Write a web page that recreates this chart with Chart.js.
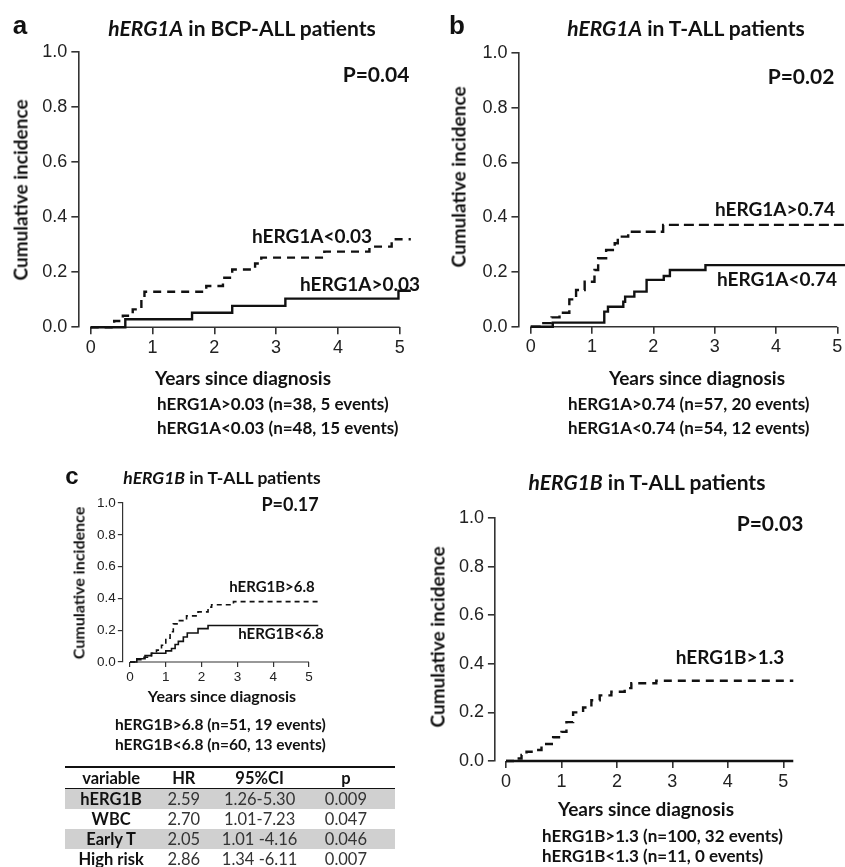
<!DOCTYPE html>
<html>
<head>
<meta charset="utf-8">
<script src="https://cdn.jsdelivr.net/npm/chart.js@4.4.1/dist/chart.umd.min.js"></script>
<style>
  html, body { margin: 0; padding: 0; width: 845px; height: 867px; overflow: hidden; background: #fff; }
  canvas { position: absolute; left: 0; top: 0; }
  .t { position: absolute; font-family: Lato, "Open Sans", sans-serif; font-weight: bold; color: #111; white-space: nowrap; }
  .c { transform: translate(-50%, -50%); }
  .l { transform: translateY(-50%); }
  .r { transform: translate(-50%, -50%) rotate(-90deg); }
  .lt { position: absolute; font-family: "Liberation Sans", Arial, sans-serif; font-weight: bold; color: #111; transform: translate(-50%, -50%); }
  table { position: absolute; left: 65px; top: 766px; width: 330px; border-collapse: collapse; font-family: Lato, sans-serif; font-size: 16.5px; }
  th, td { text-align: center; padding: 0; line-height: 20px; }
  th { border-top: 2px solid #111; border-bottom: 1.5px solid #111; color: #111; }
  td { color: #333; }
  td.v { font-weight: bold; color: #111; }
  tr.g td { background: #d0d0d0; }
</style>
</head>
<body>
<canvas id="ca" width="900" height="867"></canvas>
<canvas id="cb" width="900" height="867"></canvas>
<canvas id="cc" width="900" height="867"></canvas>
<canvas id="cd" width="900" height="867"></canvas>

<div class="lt" style="left:20px;top:25px;font-size:26px">a</div>
<div class="t c" style="left:242px;top:27px;font-size:21px"><i>hERG1A</i> in BCP-ALL patients</div>
<div class="t c" style="left:376px;top:73px;font-size:21px">P=0.04</div>
<div class="t c" style="left:312px;top:235px;font-size:19px">hERG1A&lt;0.03</div>
<div class="t c" style="left:360px;top:283px;font-size:19px">hERG1A&gt;0.03</div>
<div class="t r" style="left:20px;top:190px;font-size:19px">Cumulative incidence</div>
<div class="t c" style="left:243px;top:377px;font-size:19px">Years since diagnosis</div>
<div class="t l" style="left:157px;top:403px;font-size:17px">hERG1A&gt;0.03 (n=38, 5 events)</div>
<div class="t l" style="left:157px;top:427px;font-size:17px">hERG1A&lt;0.03 (n=48, 15 events)</div>

<div class="lt" style="left:457px;top:25px;font-size:26px">b</div>
<div class="t c" style="left:686px;top:27px;font-size:21px"><i>hERG1A</i> in T-ALL patients</div>
<div class="t c" style="left:801px;top:75px;font-size:21px">P=0.02</div>
<div class="t c" style="left:775px;top:208px;font-size:19px">hERG1A&gt;0.74</div>
<div class="t c" style="left:777px;top:278px;font-size:19px">hERG1A&lt;0.74</div>
<div class="t r" style="left:458px;top:177px;font-size:19px">Cumulative incidence</div>
<div class="t c" style="left:697px;top:377px;font-size:19px">Years since diagnosis</div>
<div class="t l" style="left:568px;top:403px;font-size:17px">hERG1A&gt;0.74 (n=57, 20 events)</div>
<div class="t l" style="left:568px;top:427px;font-size:17px">hERG1A&lt;0.74 (n=54, 12 events)</div>

<div class="lt" style="left:72px;top:476px;font-size:24px">c</div>
<div class="t c" style="left:222px;top:477px;font-size:17.5px"><i>hERG1B</i> in T-ALL patients</div>
<div class="t c" style="left:290px;top:504px;font-size:18px">P=0.17</div>
<div class="t c" style="left:272px;top:586px;font-size:15px">hERG1B&gt;6.8</div>
<div class="t c" style="left:281px;top:633px;font-size:15px">hERG1B&lt;6.8</div>
<div class="t r" style="left:78px;top:583px;font-size:16px">Cumulative incidence</div>
<div class="t c" style="left:222px;top:695px;font-size:16px">Years since diagnosis</div>
<div class="t l" style="left:115px;top:724px;font-size:15.5px">hERG1B&gt;6.8 (n=51, 19 events)</div>
<div class="t l" style="left:115px;top:744px;font-size:15.5px">hERG1B&lt;6.8 (n=60, 13 events)</div>

<table>
  <tr><th style="width:95px">variable</th><th style="width:55px">HR</th><th style="width:103px">95%CI</th><th style="width:77px;padding-right:12px">p</th></tr>
  <tr class="g"><td class="v">hERG1B</td><td>2.59</td><td>1.26-5.30</td><td style="padding-right:12px">0.009</td></tr>
  <tr><td class="v">WBC</td><td>2.70</td><td>1.01-7.23</td><td style="padding-right:12px">0.047</td></tr>
  <tr class="g"><td class="v">Early T</td><td>2.05</td><td>1.01 -4.16</td><td style="padding-right:12px">0.046</td></tr>
  <tr><td class="v">High risk</td><td>2.86</td><td>1.34 -6.11</td><td style="padding-right:12px">0.007</td></tr>
</table>

<div class="t c" style="left:647px;top:481px;font-size:21px"><i>hERG1B</i> in T-ALL patients</div>
<div class="t c" style="left:770px;top:522px;font-size:21px">P=0.03</div>
<div class="t c" style="left:730px;top:656px;font-size:19px">hERG1B&gt;1.3</div>
<div class="t r" style="left:437px;top:637px;font-size:19px">Cumulative incidence</div>
<div class="t c" style="left:646px;top:808px;font-size:19px">Years since diagnosis</div>
<div class="t l" style="left:542px;top:835px;font-size:17px">hERG1B&gt;1.3 (n=100, 32 events)</div>
<div class="t l" style="left:542px;top:855px;font-size:17px">hERG1B&lt;1.3 (n=11, 0 events)</div>

<script>
// axis ticks shared by all panels
const xTickValues = [0, 1, 2, 3, 4, 5];
const xTickLabels = ['0', '1', '2', '3', '4', '5'];
const yTickValues = [0, 0.2, 0.4, 0.6, 0.8, 1.0];
const yTickLabels = ['0.0', '0.2', '0.4', '0.6', '0.8', '1.0'];

// a: hERG1A in BCP-ALL
const aLowTimes  = [0, 0.38, 0.52, 0.68, 0.82, 0.87, 1.87, 2.14, 2.29, 2.66, 2.76, 3.78, 4.51, 4.87, 5.18];
const aLowInc    = [0, 0.023, 0.042, 0.065, 0.10, 0.129, 0.15, 0.18, 0.21, 0.232, 0.253, 0.275, 0.293, 0.32, 0.32];
const aHighTimes = [0, 0.56, 1.64, 2.29, 3.15, 4.98, 5.18];
const aHighInc   = [0, 0.029, 0.053, 0.078, 0.104, 0.133, 0.133];

// b: hERG1A in T-ALL
const bHighTimes = [0, 0.17, 0.34, 0.47, 0.63, 0.74, 0.88, 1.04, 1.10, 1.23, 1.37, 1.42, 1.59, 2.16, 5.25];
const bHighInc   = [0, 0.013, 0.034, 0.051, 0.10, 0.134, 0.164, 0.207, 0.25, 0.28, 0.305, 0.329, 0.347, 0.372, 0.372];
const bLowTimes  = [0, 0.36, 1.20, 1.26, 1.51, 1.54, 1.69, 1.89, 2.17, 2.27, 2.85, 5.25];
const bLowInc    = [0, 0.015, 0.055, 0.073, 0.091, 0.11, 0.128, 0.171, 0.185, 0.207, 0.225, 0.225];

// c: hERG1B in T-ALL, cut-off 6.8
const cHighTimes = [0, 0.19, 0.36, 0.6, 0.74, 0.88, 1.0, 1.12, 1.21, 1.38, 1.58, 1.9, 2.18, 2.28, 2.89, 5.26];
const cHighInc   = [0, 0.015, 0.03, 0.055, 0.075, 0.105, 0.15, 0.19, 0.24, 0.26, 0.29, 0.315, 0.345, 0.36, 0.38, 0.38];
const cLowTimes  = [0, 0.19, 0.42, 0.6, 1.0, 1.16, 1.26, 1.35, 1.49, 1.6, 1.9, 2.18, 5.26];
const cLowInc    = [0, 0.02, 0.04, 0.055, 0.07, 0.085, 0.11, 0.13, 0.157, 0.182, 0.21, 0.23, 0.23];

// d: hERG1B in T-ALL, cut-off 1.3
const dHighTimes = [0, 0.19, 0.28, 0.37, 0.55, 0.64, 0.85, 1.0, 1.09, 1.21, 1.39, 1.54, 1.69, 1.9, 2.14, 2.26, 2.71, 5.18];
const dHighInc   = [0, 0.01, 0.025, 0.038, 0.045, 0.07, 0.098, 0.12, 0.16, 0.20, 0.22, 0.25, 0.27, 0.285, 0.30, 0.32, 0.33, 0.33];
const dLowTimes  = [0, 5.18];
const dLowInc    = [0, 0];

const axisColor = '#333';
const lineColor = '#111';
const xMin = -0.2, xMax = 5.3;

function pts(times, inc) {
    return times.map((t, i) => ({ x: t, y: inc[i] }));
}

// x axis drawn from 0 to 5 only (offset axes)
const xAxisLine = {
    id: 'xAxisLine',
    beforeDatasetsDraw(chart) {
        const ctx = chart.ctx;
        const x = chart.scales.x;
        const y = chart.chartArea.bottom;
        ctx.save();
        ctx.strokeStyle = axisColor;
        ctx.lineWidth = chart.options.axisWidth;
        ctx.beginPath();
        ctx.moveTo(x.getPixelForValue(0), y);
        ctx.lineTo(x.getPixelForValue(5), y);
        ctx.stroke();
        ctx.restore();
    }
};

// box = page pixels of x=0, x=5, y=0, y=1
function makeChart(id, box, series, st) {
    const canvas = document.getElementById(id);
    const perYear = (box.x5 - box.x0) / 5;
    const left = box.x0 + xMin * perYear;
    const right = box.x0 + xMax * perYear;
    const yW = 60, xH = 40;
    return new Chart(canvas.getContext('2d'), {
        type: 'line',
        data: {
            datasets: series.map(s => ({
                data: pts(s.t, s.v),
                borderColor: lineColor,
                borderWidth: st.lw,
                borderDash: s.dash ? st.dash : [],
                stepped: 'before',
                pointRadius: 0,
                fill: false,
                clip: false
            }))
        },
        options: {
            responsive: false,
            animation: false,
            axisWidth: st.aw,
            layout: { padding: { left: left - yW, top: box.y1, right: canvas.width - right, bottom: canvas.height - box.y0 - xH } },
            plugins: { legend: { display: false }, tooltip: { enabled: false } },
            scales: {
                x: {
                    type: 'linear', min: xMin, max: xMax,
                    afterBuildTicks: s => { s.ticks = xTickValues.map(v => ({ value: v })); },
                    afterFit: s => { s.height = xH; },
                    ticks: { callback: (v, i) => xTickLabels[i], font: { family: 'Liberation Sans', size: st.fs }, color: '#222', padding: st.xpad, maxRotation: 0 },
                    grid: { drawOnChartArea: false, drawTicks: true, tickLength: st.tl, color: axisColor, lineWidth: st.aw },
                    border: { display: false }
                },
                y: {
                    type: 'linear', min: 0, max: 1,
                    afterBuildTicks: s => { s.ticks = yTickValues.map(v => ({ value: v })); },
                    afterFit: s => { s.width = yW; },
                    ticks: { callback: (v, i) => yTickLabels[i], font: { family: 'Liberation Sans', size: st.fs }, color: '#222', padding: st.ypad },
                    grid: { drawOnChartArea: false, drawTicks: true, tickLength: st.tl, color: axisColor, lineWidth: st.aw },
                    border: { display: true, color: axisColor, width: st.aw }
                }
            }
        },
        plugins: [xAxisLine]
    });
}

const bigStyle = { lw: 2.4, aw: 1.6, fs: 18, tl: 7, xpad: 3, ypad: 4, dash: [8, 6] };

makeChart('ca', { x0: 90.7, x5: 399.7, y0: 327.3, y1: 52 },
    [{ t: aLowTimes, v: aLowInc, dash: true }, { t: aHighTimes, v: aHighInc, dash: false }], bigStyle);

makeChart('cb', { x0: 530.7, x5: 837.3, y0: 326.7, y1: 53 },
    [{ t: bHighTimes, v: bHighInc, dash: true }, { t: bLowTimes, v: bLowInc, dash: false }],
    Object.assign({}, bigStyle, { dash: [10, 5] }));

makeChart('cc', { x0: 130, x5: 309, y0: 662, y1: 503 },
    [{ t: cHighTimes, v: cHighInc, dash: true }, { t: cLowTimes, v: cLowInc, dash: false }],
    { lw: 1.6, aw: 1.2, fs: 13.5, tl: 5, xpad: 2, ypad: 2, dash: [5, 4] });

makeChart('cd', { x0: 506, x5: 783.3, y0: 761, y1: 518 },
    [{ t: dHighTimes, v: dHighInc, dash: true }, { t: dLowTimes, v: dLowInc, dash: false }], bigStyle);
</script>
</body>
</html>
